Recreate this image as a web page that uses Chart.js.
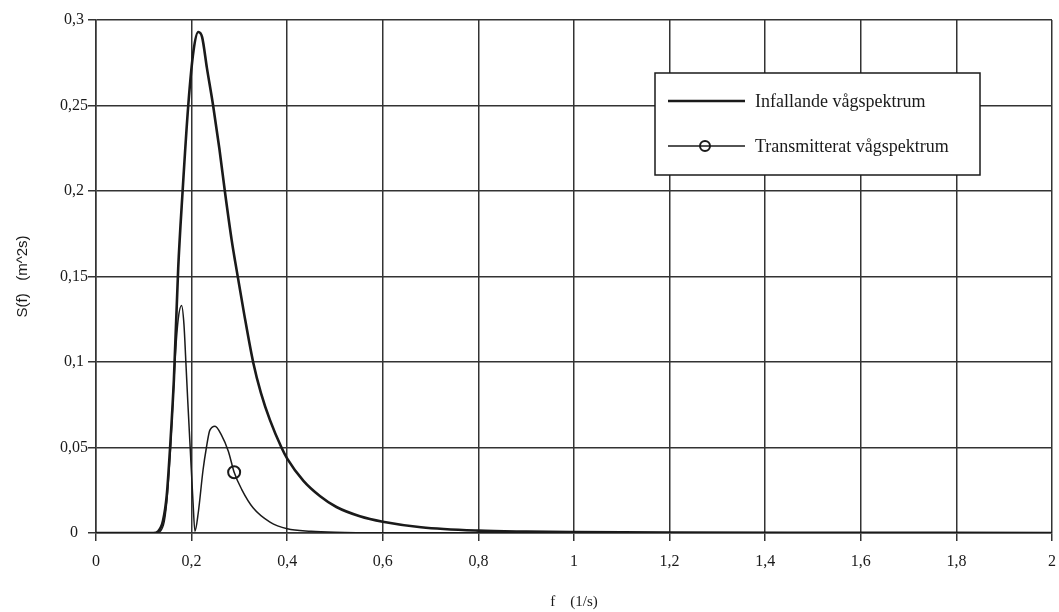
<!DOCTYPE html>
<html>
<head>
<meta charset="utf-8">
<script src="https://cdn.jsdelivr.net/npm/chart.js@4/dist/chart.umd.min.js"></script>
<style>
  body { margin: 0; background: #fff; }
  #wrap { width: 1059px; height: 612px; position: relative; }
</style>
</head>
<body>
<div id="wrap"><canvas id="spectrumChart"></canvas></div>
<script>
// Infallande vågspektrum
const freqIncident = [0, 0.12, 0.13, 0.14, 0.148, 0.155, 0.163, 0.172, 0.181, 0.193, 0.204, 0.214, 0.222, 0.232, 0.245, 0.258, 0.27, 0.284, 0.291, 0.31, 0.329, 0.345, 0.364, 0.388, 0.4, 0.434, 0.469, 0.503, 0.552, 0.6, 0.68, 0.8, 0.9, 1.0, 1.2, 1.5, 2.0];
const sIncident = [0, 0, 0.001, 0.007, 0.022, 0.05, 0.09, 0.155, 0.199, 0.25, 0.282, 0.293, 0.29, 0.272, 0.25, 0.225, 0.199, 0.171, 0.159, 0.128, 0.0996, 0.082, 0.066, 0.05, 0.0435, 0.0305, 0.0215, 0.0152, 0.0098, 0.0066, 0.0034, 0.0014, 0.0008, 0.0005, 0.0002, 0.0001, 0.00003];

// Transmitterat vågspektrum
const freqTrans = [0, 0.125, 0.141, 0.148, 0.153, 0.156, 0.165, 0.172, 0.179, 0.184, 0.188, 0.192, 0.197, 0.203, 0.207, 0.214, 0.224, 0.231, 0.238, 0.249, 0.262, 0.277, 0.289, 0.305, 0.329, 0.364, 0.4, 0.45, 0.5, 0.6, 2.0];
const sTrans = [0, 0, 0.0046, 0.018, 0.037, 0.05, 0.0996, 0.125, 0.133, 0.122, 0.1, 0.077, 0.05, 0.018, 0.001, 0.012, 0.037, 0.05, 0.06, 0.0625, 0.0575, 0.0477, 0.0355, 0.0254, 0.0146, 0.0064, 0.0025, 0.001, 0.0004, 0.0001, 0];
const transMarkerIndex = 22; // the single circle marker on the curve

const seriesLabels = ['Infallande vågspektrum', 'Transmitterat vågspektrum'];
const xTickLabels = ['0', '0,2', '0,4', '0,6', '0,8', '1', '1,2', '1,4', '1,6', '1,8', '2'];
const yTickLabels = ['0', '0,05', '0,1', '0,15', '0,2', '0,25', '0,3'];

const ink = '#1a1a1a';
const gridInk = '#333333';

// legend box drawn inside the plot, like the original
const boxLegend = {
    id: 'boxLegend',
    afterDraw(chart) {
        const ctx = chart.ctx;
        const x0 = 655, y0 = 73, w = 325, h = 102;
        ctx.save();
        ctx.fillStyle = '#fff';
        ctx.fillRect(x0, y0, w, h);
        ctx.strokeStyle = ink;
        ctx.lineWidth = 1.5;
        ctx.strokeRect(x0, y0, w, h);
        ctx.font = '18px "Liberation Serif", "Times New Roman", serif';
        ctx.fillStyle = ink;
        ctx.textBaseline = 'middle';
        const rows = [101, 146];
        chart.data.datasets.forEach((ds, i) => {
            const y = rows[i];
            ctx.strokeStyle = ink;
            ctx.lineWidth = ds.borderWidth;
            ctx.beginPath();
            ctx.moveTo(668, y);
            ctx.lineTo(745, y);
            ctx.stroke();
            if (i === 1) {
                ctx.lineWidth = 2;
                ctx.beginPath();
                ctx.arc(705, y, 5, 0, Math.PI * 2);
                ctx.stroke();
            }
            ctx.fillText(ds.label, 755, y + 1);
        });
        ctx.restore();
    }
};

new Chart(document.getElementById('spectrumChart').getContext('2d'), {
    type: 'line',
    data: {
        datasets: [{
            label: seriesLabels[0],
            data: freqIncident.map((f, i) => ({ x: f, y: sIncident[i] })),
            borderColor: ink,
            borderWidth: 2.6,
            pointRadius: 0,
            cubicInterpolationMode: 'monotone'
        }, {
            label: seriesLabels[1],
            data: freqTrans.map((f, i) => ({ x: f, y: sTrans[i] })),
            borderColor: ink,
            borderWidth: 1.5,
            pointRadius: ctx => ctx.dataIndex === transMarkerIndex ? 6 : 0,
            pointBorderWidth: 2,
            pointBorderColor: ink,
            pointBackgroundColor: 'rgba(0,0,0,0)',
            cubicInterpolationMode: 'monotone'
        }]
    },
    options: {
        responsive: true,
        maintainAspectRatio: false,
        animation: false,
        layout: { padding: { top: 20, right: 0, left: 8, bottom: 1 } },
        plugins: {
            legend: { display: false },
            tooltip: { enabled: false }
        },
        scales: {
            x: {
                type: 'linear',
                min: 0,
                max: 2,
                ticks: {
                    stepSize: 0.2,
                    color: ink,
                    font: { family: '"Liberation Serif", serif', size: 16 },
                    padding: 11,
                    maxRotation: 0,
                    callback: (v, i) => xTickLabels[i]
                },
                grid: { color: gridInk, lineWidth: 1.5, tickLength: 8, tickColor: gridInk },
                border: { color: gridInk, width: 1.5 },
                title: {
                    display: true,
                    text: 'f    (1/s)',
                    color: ink,
                    font: { family: '"Liberation Serif", serif', size: 15 },
                    padding: { top: 3, bottom: 0 }
                },
                afterFit: scale => { scale.height = 78; scale.paddingRight = 7; }
            },
            y: {
                min: 0,
                max: 0.3,
                ticks: {
                    stepSize: 0.05,
                    color: ink,
                    font: { family: '"Liberation Serif", serif', size: 16 },
                    crossAlign: 'center',
                    padding: 0,
                    callback: (v, i) => yTickLabels[i]
                },
                grid: { color: gridInk, lineWidth: 1.5, tickLength: 8, tickColor: gridInk },
                border: { color: gridInk, width: 1.5 },
                title: {
                    display: true,
                    text: 'S(f)   (m^2s)',
                    color: ink,
                    font: { family: '"Liberation Sans", Arial, sans-serif', size: 15 },
                    padding: { top: 6, bottom: 0 }
                },
                afterFit: scale => { scale.width = 88; }
            }
        }
    },
    plugins: [boxLegend]
});
</script>
</body>
</html>
